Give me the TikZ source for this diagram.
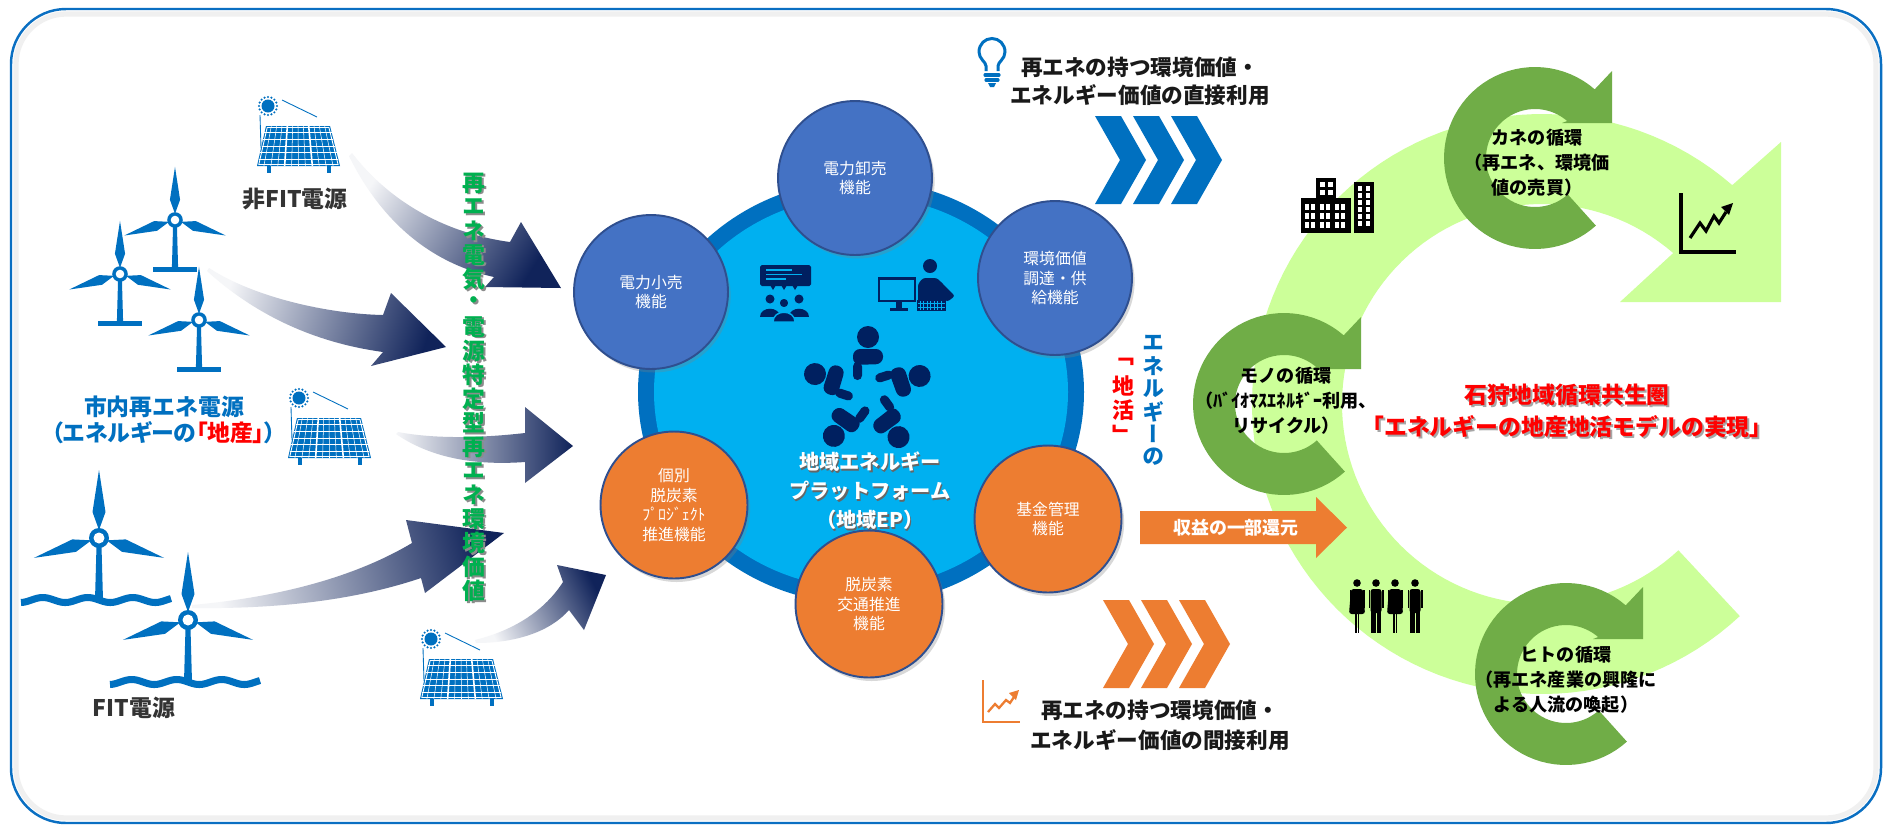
\documentclass[tikz,border=0pt]{standalone}
\usepackage{fontspec}
\setmainfont{Noto Sans CJK JP}
\newfontfamily\vertjp[RawFeature=+vert]{Noto Sans CJK JP}
\usetikzlibrary{calc,shadows}

\definecolor{frameblue}{HTML}{0A6FC2}
\definecolor{iconblue}{HTML}{0070C0}
\definecolor{flownavy}{HTML}{10235A}
\definecolor{epgreen}{HTML}{00B050}
\definecolor{platcyan}{HTML}{00B0F0}
\definecolor{platring}{HTML}{0070C0}
\definecolor{funcblue}{HTML}{4472C4}
\definecolor{funcedge}{HTML}{2F4F8F}
\definecolor{funcorange}{HTML}{ED7D31}
\definecolor{iconnavy}{HTML}{002060}
\definecolor{bandgreen}{HTML}{CCFF99}
\definecolor{cyclegreen}{HTML}{70AD47}
\definecolor{darktext}{HTML}{333333}

% tower, blades and hub of a wind turbine, origin at the hub
\newcommand\turbinebody{%
  \fill[iconblue] (-2.5,8) -- (2.5,8) -- (4,62) -- (-4,62) -- cycle;
  \foreach \r in {90,-17,197}
    \fill[iconblue, rotate=\r] (8,0) -- (26,-6.5) -- (68,0) -- (26,6.5) -- cycle;
  \fill[iconblue] (0,0) circle (10);
  \fill[white] (0,0) circle (5.5);
}

\tikzset{
  % solar panel, origin at the sun
  solar/.pic={
    \fill[iconblue] (0,0) circle (6.5);
    \foreach \a in {0,22.5,...,337.5}
      \fill[iconblue] (\a:9) circle (1.2);
    \draw[iconblue, line width=0.5pt] (14,-6) -- (49,11);
    \draw[iconblue, line width=0.5pt] (-8,9) -- (-7,42);
    \fill[iconblue] (-2,20) -- (62,20) -- (72,60) -- (-11,60) -- cycle;
    \foreach \t in {0.167,0.5,0.833}
      \draw[white, line width=0.3pt] ({-2-9*\t},{20+40*\t}) -- ({62+10*\t},{20+40*\t});
    \foreach \t in {0.333,0.667}
      \draw[white, line width=0.9pt] ({-2-9*\t},{20+40*\t}) -- ({62+10*\t},{20+40*\t});
    \foreach \s in {0.083,0.167,0.25,0.417,0.5,0.583,0.75,0.833,0.917}
      \draw[white, line width=0.3pt] ({-2+64*\s},20) -- ({-11+83*\s},60);
    \foreach \s in {0.333,0.667}
      \draw[white, line width=0.9pt] ({-2+64*\s},20) -- ({-11+83*\s},60);
    \draw[white, line width=0.5pt] (-0.8,21.5) -- (60.9,21.5) -- (70.1,58.5) -- (-9.2,58.5) -- cycle;
    \fill[iconblue] (-1,60) rectangle (3,67);
    \fill[iconblue] (59,60) rectangle (63,67);
  },
  landturbine/.pic={
    \turbinebody
    \fill[iconblue] (-28,60) rectangle (28,67);
  },
  seaturbine/.pic={
    \turbinebody
    \draw[iconblue, line width=4pt] plot[domain=-78:72, samples=80] (\x,{62+2.5*sin(8*\x)});
  },
  % green cycle arrow, origin at its centre
  cyclering/.pic={
    \fill[cyclegreen] plot[domain=48:311, samples=60] ({91*cos(\x)},{91*sin(\x)})
      -- (77,-87) -- (77,-35) -- (27,-35)
      -- plot[domain=311:48, samples=60] ({49*cos(\x)},{49*sin(\x)}) -- cycle;
  },
  chevron/.pic={
    \fill (0,-44) -- (26,-44) -- (51,0) -- (26,44) -- (0,44) -- (25,0) -- cycle;
  },
}

\begin{document}
\begin{tikzpicture}[x=0.02cm, y=-0.02cm,
  flow/.style={top color=flownavy!4, bottom color=flownavy},
  srcname/.style={font=\bfseries\fontsize{13}{14.8}\selectfont, text=darktext, align=center, inner sep=0pt},
  usetext/.style={font=\bfseries\fontsize{12.3}{16}\selectfont, text=black!90, align=center, inner sep=0pt},
  verttext/.style={font=\vertjp\bfseries\fontsize{13}{13}\selectfont, inner sep=0pt},
  cycletext/.style={font=\bfseries\fontsize{10.3}{14.2}\selectfont, text=black, align=center, inner sep=0pt},
  titletext/.style={font=\bfseries\fontsize{13}{18.2}\selectfont, text=red, align=center, inner sep=0pt},
  funcnode/.style={circle, draw=funcedge, line width=1.1pt, text=white, align=center, inner sep=0pt,
    font=\fontsize{9}{11.1}\selectfont,
    drop shadow={shadow xshift=1.5pt, shadow yshift=-2pt, opacity=0.3}},
  bluefn/.style={funcnode, fill=funcblue, minimum size=3.08cm},
  orangefn/.style={funcnode, fill=funcorange, minimum size=2.94cm},
]
\useasboundingbox (0,0) rectangle (1887,826);
\fill[white] (0,0) rectangle (1887,826);
\draw[black!6, line width=3pt, rounded corners=1.0cm] (16,14) rectangle (1876,818);
\draw[frameblue, line width=1.4pt, rounded corners=1.1cm] (11,9) rectangle (1881,823);

% big circulation band
\fill[bandgreen] plot[domain=47:311, samples=100] ({1542+290*cos(\x)},{404+290*sin(\x)})
  -- (1781,142) -- (1781,302) -- (1620,302)
  -- plot[domain=311:47, samples=100] ({1542+200*cos(\x)},{404+200*sin(\x)}) -- cycle;

\pic at (1535,158) {cyclering};
\pic at (1284,404) {cyclering};
\pic at (1566,674) {cyclering};
\node[cycletext] (kane) at (1537,163) {カネの循環\\（再エネ、環境価\\値の売買）};
\node[cycletext] (mono) at (1286,401) {モノの循環\\（ﾊﾞｲｵﾏｽｴﾈﾙｷﾞｰ利用、\\リサイクル）};
\node[cycletext] (hito) at (1566,680) {ヒトの循環\\（再エネ産業の興隆に\\よる人流の喚起）};

\node[titletext, text=black!35] (goalshadow) at (1569,413) {石狩地域循環共生圏\\「エネルギーの地産地活モデルの実現」};
\node[titletext] (goal) at (1567,411) {石狩地域循環共生圏\\「エネルギーの地産地活モデルの実現」};

% buildings
\fill (1316,178) rectangle (1336,203);
\fill (1301,198) rectangle (1351,233);
\fill (1354,182) rectangle (1374,233);
\foreach \xx in {1320,1328}
  \foreach \yy in {182,190}
    \fill[white] (\xx,\yy) rectangle +(4.5,5);
\foreach \xx in {1305,1311,1320,1326,1335,1341}
  \foreach \yy in {204,213,222}
    \fill[white] (\xx,\yy) rectangle +(4,5.5);
\foreach \xx in {1358,1366}
  \foreach \yy in {186,193,...,222}
    \fill[white] (\xx,\yy) rectangle +(4,4.5);

% rising chart
\draw[line width=2pt] (1681,193) -- (1681,252) -- (1736,252);
\draw[line width=1.8pt] (1690,238) -- (1700,223) -- (1706,231) -- (1714,216) -- (1719,223) -- (1726,212);
\fill (1733,203) -- (1721,207) -- (1729,215) -- cycle;

% people
\foreach \xp [count=\i] in {1357,1376,1395,1415} {
  \fill (\xp,583) circle (3.8);
  \fill (\xp-1.8,612) rectangle (\xp-0.5,633);
  \fill (\xp+0.5,612) rectangle (\xp+1.8,633);
  \fill (\xp-7.5,590) rectangle (\xp-6,608);
  \fill (\xp+6,590) rectangle (\xp+7.5,608);
  \ifodd\i
    \fill[rounded corners=1.5pt] (\xp-6,589) -- (\xp+6,589) -- (\xp+8,614) -- (\xp-8,614) -- cycle;
  \else
    \fill[rounded corners=1.5pt] (\xp-5.5,589) rectangle (\xp+5.5,613);
    \fill (\xp-5,612) rectangle (\xp-0.5,633);
    \fill (\xp+0.5,612) rectangle (\xp+5,633);
  \fi
}

% direct / indirect use
\draw[iconblue, line width=1.7pt] (986,71) -- (986,66) .. controls (986,62) and (979,59) .. (979,52)
  .. controls (979,44) and (985,38.5) .. (992,38.5) .. controls (999,38.5) and (1005,44) .. (1005,52)
  .. controls (1005,59) and (998,62) .. (998,66) -- (998,71);
\draw[iconblue, line width=1.8pt, line cap=round] (985,75) -- (999,75) (986,80) -- (998,80);
\fill[iconblue] (988,83) -- (996,83) -- (994,87) -- (990,87) -- cycle;
\node[usetext] (direct) at (1140,81) {再エネの持つ環境価値・\\エネルギー価値の直接利用};
\foreach \dx in {0,38,76}
  \pic[iconblue] at ({1095+\dx},160) {chevron};

\foreach \dx in {0,38,76}
  \pic[funcorange] at ({1103+\dx},644) {chevron};
\draw[funcorange, line width=1.4pt] (983,680) -- (983,722) -- (1020,722);
\draw[funcorange, line width=1.3pt] (988,712) -- (995,704) -- (999,708) -- (1006,700) -- (1010,703) -- (1014,697);
\fill[funcorange] (1019,690) -- (1009,693) -- (1016,700) -- cycle;
\node[usetext, font=\bfseries\fontsize{12.3}{17}\selectfont] (indirect) at (1160,725) {再エネの持つ環境価値・\\エネルギー価値の間接利用};

% returned revenue
\fill[funcorange] (1140,511) -- (1316,511) -- (1316,497) -- (1347,527.5) -- (1316,558) -- (1316,544) -- (1140,544) -- cycle;
\node[font=\bfseries\fontsize{10.2}{12}\selectfont, text=white] (refund) at (1236,528) {収益の一部還元};

\foreach \c [count=\i] in {エ,ネ,ル,ギ,ー,の}
  \node[verttext, text=iconblue, font=\vertjp\bfseries\fontsize{12.5}{12.5}\selectfont] (chi\i) at (1153,{343+22.8*(\i-1)}) {\c};
\foreach \c [count=\i] in {「,地,活,」}
  \node[verttext, text=red, font=\vertjp\bfseries\fontsize{12.5}{12.5}\selectfont] (katsu\i) at (1123,{362+24*(\i-1)}) {\c};

% sources
\pic at (268,106) {solar};
\pic at (299,398) {solar};
\pic at (431,639) {solar};
\pic[scale=0.78] at (175,220) {landturbine};
\pic[scale=0.78] at (120,274) {landturbine};
\pic[scale=0.78] at (199,320) {landturbine};
\pic at (99,538) {seaturbine};
\pic at (188,620) {seaturbine};
\node[srcname] (nonfit) at (295,199) {非FIT電源};
\node[srcname, text=iconblue] (local) at (164,420) {市内再エネ電源\\\addfontfeatures{RawFeature=+palt}（エネルギーの{\color{red}「地産」}）};
\node[srcname] (fit) at (134,708) {FIT電源};

% flows into the platform
\shade[flow, shading angle=58] (352,153) .. controls (392,205) and (450,234) .. (510,242) -- (521,222) -- (561,288)
  -- (485,287) -- (494,277) .. controls (425,262) and (378,215) .. (349,156) -- cycle;
\shade[flow, shading angle=72] (209,268) .. controls (255,298) and (330,314) .. (383,315) -- (391,293) -- (446,347)
  -- (371,366) -- (383,352) .. controls (310,342) and (252,312) .. (207,271) -- cycle;
\shade[flow, shading angle=90] (398,432) .. controls (440,440) and (490,437) .. (525,433) -- (525,407) -- (573,446)
  -- (525,483) -- (525,462) .. controls (470,466) and (428,456) .. (396,434) -- cycle;
\shade[flow, shading angle=103] (192,605) .. controls (270,598) and (350,580) .. (412,543) -- (406,520) -- (504,533)
  -- (425,593) -- (421,578) .. controls (350,602) and (270,609) .. (192,608) -- cycle;
\shade[flow, shading angle=116] (475,640) .. controls (515,630) and (545,610) .. (563,582) -- (557,565) -- (606,575)
  -- (584,630) -- (569,610) .. controls (550,632) and (515,643) .. (476,643) -- cycle;

\foreach \c [count=\i] in {再,エ,ネ,電,気,・,電,源,特,定,型,再,エ,ネ,環,境,価,値} {
  \node[verttext, text=black!45] (epshadow\i) at (475.5,{184.5+24*(\i-1)}) {\c};
  \node[verttext, text=epgreen] (ep\i) at (474,{183+24*(\i-1)}) {\c};
}

% regional energy platform
\fill[platring] (861,392) ellipse [x radius=223, y radius=212];
\fill[platcyan] (861,392) ellipse [x radius=207, y radius=196];

% meeting
\fill[iconnavy, rounded corners=1pt] (760,265) rectangle (811,286);
\foreach \xx in {773,784,795}
  \fill[iconnavy] (\xx-3,285) -- (\xx+3,285) -- (\xx,290) -- cycle;
\draw[platcyan, line width=0.7pt] (766,270) -- (792,270) (766,274.5) -- (802,274.5) (766,279) -- (786,279);
\fill[iconnavy] (770,299) circle (4.5) (799,299) circle (4.5);
\fill[iconnavy] (760,317) .. controls (760,306) and (780,306) .. (780,317) -- cycle;
\fill[iconnavy] (789,317) .. controls (789,306) and (809,306) .. (809,317) -- cycle;
\filldraw[fill=iconnavy, draw=platcyan, line width=0.8pt] (784,303) circle (5);
\filldraw[fill=iconnavy, draw=platcyan, line width=0.8pt] (773,322) .. controls (773,309) and (795,309) .. (795,322) -- cycle;

% desk worker
\draw[iconnavy, line width=1.3pt] (879,278.5) rectangle (915,301);
\fill[iconnavy] (896,302) rectangle (902,308);
\fill[iconnavy] (890,308) rectangle (908,311);
\fill[iconnavy] (930,266) circle (7);
\fill[iconnavy, rounded corners=1.5pt] (918,304) -- (918,284) -- (923,278) -- (937,278) -- (943,284)
  -- (955,296) -- (947,302) -- (944,299) -- (944,304) -- cycle;
\fill[iconnavy] (917,300) rectangle (946,311);
\foreach \yy in {303.5,307}
  \draw[platcyan, line width=0.3pt] (918,\yy) -- (945,\yy);
\foreach \xx in {920,923.5,...,943}
  \draw[platcyan, line width=0.3pt] (\xx,301) -- (\xx,310);

% team
\begin{scope}[shift={(867,392)}]
  \foreach \k in {0,...,4} {
    \begin{scope}[rotate=-72*\k]
      \fill[iconnavy] (1,-55) circle (11);
      \fill[iconnavy, rounded corners=4pt] (-14,-27) -- (-14,-43) -- (16,-43) -- (16,-28) -- cycle;
      \fill[iconnavy, rounded corners=2.5pt] (-14,-30) -- (-14,-12) -- (-5,-12) -- (-5,-30) -- cycle;
    \end{scope}
  }
\end{scope}

\node[font=\bfseries\fontsize{11.5}{16.5}\selectfont, text=black!60, align=center] (epnameshadow) at (871.2,492.2) {地域エネルギー\\プラットフォーム\\（地域EP）};
\node[font=\bfseries\fontsize{11.5}{16.5}\selectfont, text=white, align=center] (epname) at (870,491) {地域エネルギー\\プラットフォーム\\（地域EP）};

\node[bluefn] (wholesale) at (855,178) {電力卸売\\機能};
\node[bluefn] (retail) at (651,292) {電力小売\\機能};
\node[bluefn] (envvalue) at (1055,278) {環境価値\\調達・供\\給機能};
\node[orangefn] (project) at (674,505) {個別\\脱炭素\\ﾌﾟﾛｼﾞｪｸﾄ\\推進機能};
\node[orangefn] (transport) at (869,604) {脱炭素\\交通推進\\機能};
\node[orangefn] (fund) at (1048,519) {基金管理\\機能};
\end{tikzpicture}
\end{document}
